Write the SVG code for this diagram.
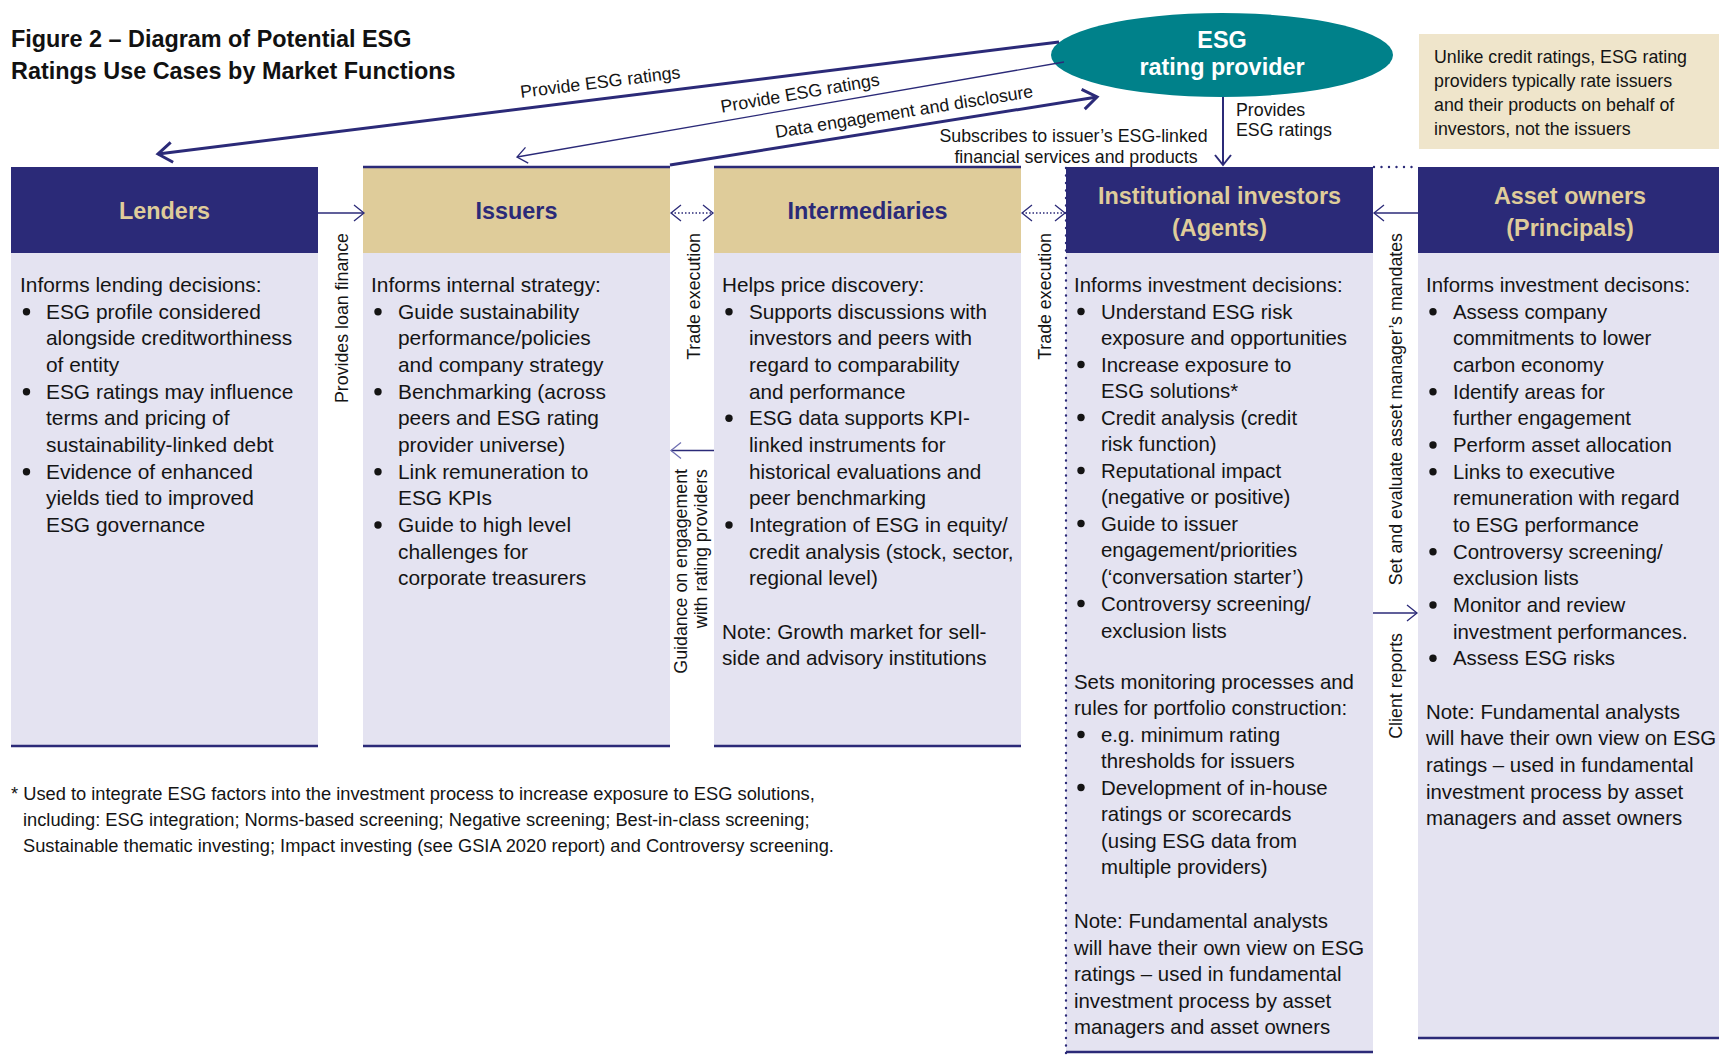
<svg xmlns="http://www.w3.org/2000/svg" width="1719" height="1063" viewBox="0 0 1719 1063">
  <style>
    text { font-family: "Liberation Sans", Arial, sans-serif; }
    .title { font-size: 23.4px; font-weight: bold; fill: #111; }
    .hdr-navy { fill: #2b2a78; }
    .hdr-tan { fill: #dfcc9a; }
    .body { fill: #e4e3f1; }
    .h-light { font-size: 23.4px; font-weight: bold; fill: #dfcc9a; text-anchor: middle; }
    .h-dark { font-size: 23.4px; font-weight: bold; fill: #2b2a78; text-anchor: middle; }
    .txt { font-size: 20.5px; fill: #141414; }
    .txt-w { font-size: 20.9px; }
    .txt-m { font-size: 20.7px; }
    .txt-n { font-size: 20.4px; }
    .lbl { font-size: 17.8px; fill: #141414; }
    .foot { font-size: 18.3px; fill: #141414; }
    .bul { fill: #141414; }
    .rule { stroke: #2b2a78; stroke-width: 2.5; fill: none; }
    .dots { stroke: #2b2a78; stroke-width: 2.4; stroke-linecap: round; stroke-dasharray: 0 7.5; fill: none; }
    .edge { stroke: #2b2a78; fill: none; }
    .thick { stroke-width: 3; }
    .thin { stroke-width: 1.3; }
    .dotted { stroke-width: 1.3; stroke-dasharray: 1.5 2; }
  </style>
  <defs>
    <marker id="chev-lg" viewBox="-16 -12 18 24" refX="0" refY="0" markerWidth="18" markerHeight="24" markerUnits="userSpaceOnUse" orient="auto" overflow="visible">
      <path d="M-14,-10 L0,0 L-14,10" fill="none" stroke="#2b2a78" stroke-width="3"/>
    </marker>
    <marker id="chev-md" viewBox="-12 -10 14 20" refX="0" refY="0" markerWidth="14" markerHeight="20" markerUnits="userSpaceOnUse" orient="auto" overflow="visible">
      <path d="M-10,-8 L0,0 L-10,8" fill="none" stroke="#2b2a78" stroke-width="2"/>
    </marker>
    <marker id="chev-sm" viewBox="-12 -10 14 20" refX="0" refY="0" markerWidth="14" markerHeight="20" markerUnits="userSpaceOnUse" orient="auto-start-reverse" overflow="visible">
      <path d="M-10,-8 L0,0 L-10,8" fill="none" stroke="#2b2a78" stroke-width="1.3"/>
    </marker>
    <marker id="chev-lt" viewBox="-12 -10 14 20" refX="0" refY="0" markerWidth="14" markerHeight="20" markerUnits="userSpaceOnUse" orient="auto" overflow="visible">
      <path d="M-10,-8 L0,0 L-10,8" fill="none" stroke="#7070b2" stroke-width="1.3"/>
    </marker>
  </defs>

  <rect width="1719" height="1063" fill="#ffffff"/>

  <!-- Title -->
  <g id="title">
    <text class="title" x="11" y="47">Figure 2 – Diagram of Potential ESG</text>
    <text class="title" x="11" y="79">Ratings Use Cases by Market Functions</text>
  </g>

  <!-- Rating provider -->
  <g id="esg-rating-provider">
    <ellipse cx="1222" cy="55" rx="171" ry="42" fill="#00818a"/>
    <text x="1222" y="48" font-size="23.4" font-weight="bold" fill="#ffffff" text-anchor="middle">ESG</text>
    <text x="1222" y="75" font-size="23.4" font-weight="bold" fill="#ffffff" text-anchor="middle">rating provider</text>
  </g>

  <!-- Side note -->
  <g id="note">
    <rect x="1419" y="34" width="300" height="115" fill="#efe5cb"/>
    <text class="lbl">
      <tspan x="1434" y="63">Unlike credit ratings, ESG rating</tspan>
      <tspan x="1434" y="87">providers typically rate issuers</tspan>
      <tspan x="1434" y="111">and their products on behalf of</tspan>
      <tspan x="1434" y="135">investors, not the issuers</tspan>
    </text>
  </g>

  <!-- Lenders -->
  <g id="lenders">
    <rect class="body" x="11" y="253" width="307" height="493"/>
    <rect class="hdr-navy" x="11" y="167" width="307" height="86"/>
    <text class="h-light" x="164.5" y="219">Lenders</text>
    <line class="rule" x1="11" y1="746" x2="318" y2="746"/>
    <g class="bul">
      <circle cx="26.5" cy="311.7" r="3.7"/>
      <circle cx="26.5" cy="391.7" r="3.7"/>
      <circle cx="26.5" cy="471.7" r="3.7"/>
    </g>
    <text class="txt txt-w">
      <tspan x="20" y="292">Informs lending decisions:</tspan>
      <tspan x="46" y="318.7">ESG profile considered</tspan>
      <tspan x="46" y="345.3">alongside creditworthiness</tspan>
      <tspan x="46" y="372">of entity</tspan>
      <tspan x="46" y="398.7">ESG ratings may influence</tspan>
      <tspan x="46" y="425.3">terms and pricing of</tspan>
      <tspan x="46" y="452">sustainability-linked debt</tspan>
      <tspan x="46" y="478.7">Evidence of enhanced</tspan>
      <tspan x="46" y="505.3">yields tied to improved</tspan>
      <tspan x="46" y="532">ESG governance</tspan>
    </text>
  </g>

  <!-- Issuers -->
  <g id="issuers">
    <rect class="body" x="363" y="253" width="307" height="493"/>
    <rect class="hdr-tan" x="363" y="167" width="307" height="86"/>
    <line class="rule" x1="363" y1="167" x2="670" y2="167"/>
    <text class="h-dark" x="516.5" y="219">Issuers</text>
    <line class="rule" x1="363" y1="746" x2="670" y2="746"/>
    <g class="bul">
      <circle cx="378" cy="311.7" r="3.7"/>
      <circle cx="378" cy="391.7" r="3.7"/>
      <circle cx="378" cy="471.7" r="3.7"/>
      <circle cx="378" cy="525" r="3.7"/>
    </g>
    <text class="txt txt-w">
      <tspan x="371" y="292">Informs internal strategy:</tspan>
      <tspan x="398" y="318.7">Guide sustainability</tspan>
      <tspan x="398" y="345.3">performance/policies</tspan>
      <tspan x="398" y="372">and company strategy</tspan>
      <tspan x="398" y="398.7">Benchmarking (across</tspan>
      <tspan x="398" y="425.3">peers and ESG rating</tspan>
      <tspan x="398" y="452">provider universe)</tspan>
      <tspan x="398" y="478.7">Link remuneration to</tspan>
      <tspan x="398" y="505.3">ESG KPIs</tspan>
      <tspan x="398" y="532">Guide to high level</tspan>
      <tspan x="398" y="558.7">challenges for</tspan>
      <tspan x="398" y="585.3">corporate treasurers</tspan>
    </text>
  </g>

  <!-- Intermediaries -->
  <g id="intermediaries">
    <rect class="body" x="714" y="253" width="307" height="493"/>
    <rect class="hdr-tan" x="714" y="167" width="307" height="86"/>
    <line class="rule" x1="714" y1="167" x2="1021" y2="167"/>
    <text class="h-dark" x="867.5" y="219">Intermediaries</text>
    <line class="rule" x1="714" y1="746" x2="1021" y2="746"/>
    <g class="bul">
      <circle cx="729" cy="311.7" r="3.7"/>
      <circle cx="729" cy="418.3" r="3.7"/>
      <circle cx="729" cy="525" r="3.7"/>
    </g>
    <text class="txt txt-m">
      <tspan x="722" y="292">Helps price discovery:</tspan>
      <tspan x="749" y="318.7">Supports discussions with</tspan>
      <tspan x="749" y="345.3">investors and peers with</tspan>
      <tspan x="749" y="372">regard to comparability</tspan>
      <tspan x="749" y="398.7">and performance</tspan>
      <tspan x="749" y="425.3">ESG data supports KPI-</tspan>
      <tspan x="749" y="452">linked instruments for</tspan>
      <tspan x="749" y="478.7">historical evaluations and</tspan>
      <tspan x="749" y="505.3">peer benchmarking</tspan>
      <tspan x="749" y="532">Integration of ESG in equity/</tspan>
      <tspan x="749" y="558.7">credit analysis (stock, sector,</tspan>
      <tspan x="749" y="585.3">regional level)</tspan>
      <tspan x="722" y="638.7">Note: Growth market for sell-</tspan>
      <tspan x="722" y="665.3">side and advisory institutions</tspan>
    </text>
  </g>

  <!-- Institutional investors -->
  <g id="institutional-investors">
    <rect class="body" x="1066" y="253" width="307" height="799"/>
    <rect class="hdr-navy" x="1066" y="167" width="307" height="86"/>
    <text class="h-light" x="1219.5" y="204">Institutional investors</text>
    <text class="h-light" x="1219.5" y="236">(Agents)</text>
    <line class="rule" x1="1066" y1="1052" x2="1373" y2="1052"/>
    <line class="dots" x1="1066" y1="168" x2="1066" y2="1058"/>
    <line class="dots" x1="1374" y1="167" x2="1418" y2="167"/>
    <g class="bul">
      <circle cx="1081" cy="311.5" r="3.7"/>
      <circle cx="1081" cy="364.5" r="3.7"/>
      <circle cx="1081" cy="417.5" r="3.7"/>
      <circle cx="1081" cy="470.5" r="3.7"/>
      <circle cx="1081" cy="523.5" r="3.7"/>
      <circle cx="1081" cy="603.5" r="3.7"/>
      <circle cx="1081" cy="734.5" r="3.7"/>
      <circle cx="1081" cy="787.5" r="3.7"/>
    </g>
    <text class="txt txt-n">
      <tspan x="1074" y="292">Informs investment decisions:</tspan>
      <tspan x="1101" y="318.5">Understand ESG risk</tspan>
      <tspan x="1101" y="345">exposure and opportunities</tspan>
      <tspan x="1101" y="371.5">Increase exposure to</tspan>
      <tspan x="1101" y="398">ESG solutions*</tspan>
      <tspan x="1101" y="424.5">Credit analysis (credit</tspan>
      <tspan x="1101" y="451">risk function)</tspan>
      <tspan x="1101" y="477.5">Reputational impact</tspan>
      <tspan x="1101" y="504">(negative or positive)</tspan>
      <tspan x="1101" y="530.5">Guide to issuer</tspan>
      <tspan x="1101" y="557">engagement/priorities</tspan>
      <tspan x="1101" y="583.5">(‘conversation starter’)</tspan>
      <tspan x="1101" y="610.5">Controversy screening/</tspan>
      <tspan x="1101" y="638">exclusion lists</tspan>
      <tspan x="1074" y="688.5">Sets monitoring processes and</tspan>
      <tspan x="1074" y="715">rules for portfolio construction:</tspan>
      <tspan x="1101" y="741.5">e.g. minimum rating</tspan>
      <tspan x="1101" y="768">thresholds for issuers</tspan>
      <tspan x="1101" y="794.5">Development of in-house</tspan>
      <tspan x="1101" y="821">ratings or scorecards</tspan>
      <tspan x="1101" y="847.5">(using ESG data from</tspan>
      <tspan x="1101" y="874">multiple providers)</tspan>
      <tspan x="1074" y="928">Note: Fundamental analysts</tspan>
      <tspan x="1074" y="954.5">will have their own view on ESG</tspan>
      <tspan x="1074" y="981">ratings – used in fundamental</tspan>
      <tspan x="1074" y="1007.5">investment process by asset</tspan>
      <tspan x="1074" y="1034">managers and asset owners</tspan>
    </text>
  </g>

  <!-- Asset owners -->
  <g id="asset-owners">
    <rect class="body" x="1418" y="253" width="301" height="785"/>
    <rect class="hdr-navy" x="1418" y="167" width="301" height="86"/>
    <text class="h-light" x="1570" y="204">Asset owners</text>
    <text class="h-light" x="1570" y="236">(Principals)</text>
    <line class="rule" x1="1418" y1="1038" x2="1719" y2="1038"/>
    <g class="bul">
      <circle cx="1433" cy="311.7" r="3.7"/>
      <circle cx="1433" cy="391.7" r="3.7"/>
      <circle cx="1433" cy="445" r="3.7"/>
      <circle cx="1433" cy="471.7" r="3.7"/>
      <circle cx="1433" cy="551.7" r="3.7"/>
      <circle cx="1433" cy="605" r="3.7"/>
      <circle cx="1433" cy="658.3" r="3.7"/>
    </g>
    <text class="txt txt-n">
      <tspan x="1426" y="292">Informs investment decisons:</tspan>
      <tspan x="1453" y="318.7">Assess company</tspan>
      <tspan x="1453" y="345.3">commitments to lower</tspan>
      <tspan x="1453" y="372">carbon economy</tspan>
      <tspan x="1453" y="398.7">Identify areas for</tspan>
      <tspan x="1453" y="425.3">further engagement</tspan>
      <tspan x="1453" y="452">Perform asset allocation</tspan>
      <tspan x="1453" y="478.7">Links to executive</tspan>
      <tspan x="1453" y="505.3">remuneration with regard</tspan>
      <tspan x="1453" y="532">to ESG performance</tspan>
      <tspan x="1453" y="558.7">Controversy screening/</tspan>
      <tspan x="1453" y="585.3">exclusion lists</tspan>
      <tspan x="1453" y="612">Monitor and review</tspan>
      <tspan x="1453" y="638.7">investment performances.</tspan>
      <tspan x="1453" y="665.3">Assess ESG risks</tspan>
      <tspan x="1426" y="718.7">Note: Fundamental analysts</tspan>
      <tspan x="1426" y="745.3">will have their own view on ESG</tspan>
      <tspan x="1426" y="772">ratings – used in fundamental</tspan>
      <tspan x="1426" y="798.7">investment process by asset</tspan>
      <tspan x="1426" y="825.3">managers and asset owners</tspan>
    </text>
  </g>

  <!-- Footnote -->
  <g id="footnote">
    <text class="foot">
      <tspan x="11" y="800">* Used to integrate ESG factors into the investment process to increase exposure to ESG solutions,</tspan>
      <tspan x="23" y="826">including: ESG integration; Norms-based screening; Negative screening; Best-in-class screening;</tspan>
      <tspan x="23" y="852">Sustainable thematic investing; Impact investing (see GSIA 2020 report) and Controversy screening.</tspan>
    </text>
  </g>

  <!-- Connectors -->
  <g id="connectors">
    <path class="edge thick" d="M1059,42 L158,154" marker-end="url(#chev-lg)"/>
    <path class="edge thin" d="M1064,62 L517,157" marker-end="url(#chev-sm)"/>
    <path class="edge thick" d="M670,165 L1097,97" marker-end="url(#chev-lg)"/>
    <path class="edge" stroke-width="2" d="M1223,97 L1223,165" marker-end="url(#chev-md)"/>
    <path class="edge thin" d="M318,213 L364,213" marker-end="url(#chev-sm)"/>
    <path class="edge dotted" d="M671,213 L713,213" marker-start="url(#chev-sm)" marker-end="url(#chev-sm)"/>
    <path class="edge dotted" d="M1022,213 L1065,213" marker-start="url(#chev-sm)" marker-end="url(#chev-sm)"/>
    <path class="edge thin" stroke="#7070b2" d="M714,450.5 L671,450.5" marker-end="url(#chev-lt)"/>
    <path class="edge thin" d="M1418,213 L1374,213" marker-end="url(#chev-sm)"/>
    <path class="edge thin" d="M1373,613 L1417,613" marker-end="url(#chev-sm)"/>

    <text class="lbl" text-anchor="middle" transform="translate(601,88) rotate(-7.1)">Provide ESG ratings</text>
    <text class="lbl" text-anchor="middle" transform="translate(801,99) rotate(-9.85)">Provide ESG ratings</text>
    <text class="lbl" text-anchor="middle" transform="translate(905,117.5) rotate(-9.05)">Data engagement and disclosure</text>
    <text class="lbl">
      <tspan x="1236" y="115.5">Provides</tspan>
      <tspan x="1236" y="136">ESG ratings</tspan>
    </text>
    <text class="lbl" text-anchor="middle">
      <tspan x="1076" y="142">Subscribes to issuer’s ESG-linked</tspan>
      <tspan x="1076" y="162.5">financial services and products</tspan>
    </text>
    <text class="lbl" text-anchor="end" transform="translate(348,233) rotate(-90)">Provides loan finance</text>
    <text class="lbl" text-anchor="end" transform="translate(699.5,233) rotate(-90)">Trade execution</text>
    <text class="lbl" text-anchor="end" transform="translate(1051,233) rotate(-90)">Trade execution</text>
    <text class="lbl" text-anchor="end" transform="translate(1402,233) rotate(-90)">Set and evaluate asset manager’s mandates</text>
    <text class="lbl" text-anchor="end" transform="translate(1402,633) rotate(-90)">Client reports</text>
    <text class="lbl" text-anchor="end" transform="translate(687,469) rotate(-90)">Guidance on engagement</text>
    <text class="lbl" text-anchor="end" transform="translate(707,469) rotate(-90)">with rating providers</text>
  </g>
</svg>
